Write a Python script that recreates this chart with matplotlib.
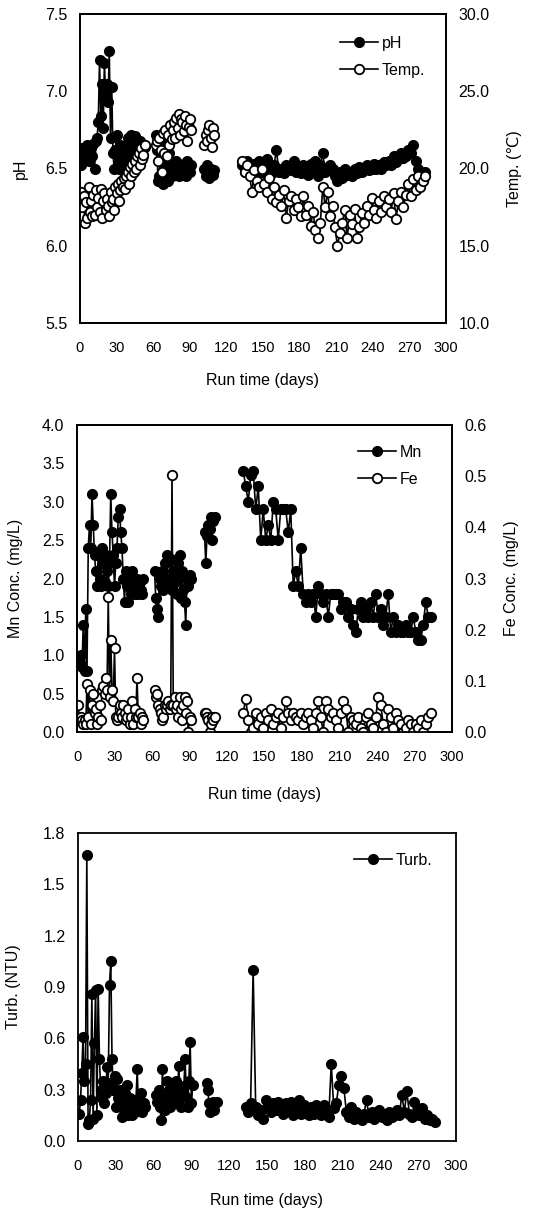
import numpy as np
import matplotlib
matplotlib.use("Agg")
import matplotlib.pyplot as plt
from matplotlib.lines import Line2D

plt.rcParams['font.family'] = ['Liberation Sans', 'DejaVu Sans']

# ---------------- data (run time in days, four sampling periods) ----------------
days_a = [1, 2, 3, 4, 5, 6, 7, 8, 9, 10, 11, 12, 13, 14, 15, 16, 17, 18, 19, 20,
          21, 22, 23, 24, 25, 26, 27, 28, 29, 30, 31, 32, 33, 34, 35, 36, 37, 38, 39, 40,
          41, 42, 43, 44, 45, 46, 47, 48, 49, 50, 51, 52, 53]
days_b = [62, 63, 64, 65, 66, 67, 68, 69, 70, 71, 72, 73, 74, 75, 76, 77, 78, 79, 80, 81,
          82, 83, 84, 85, 86, 87, 88, 89, 90, 91]
days_c = [102, 103, 104, 105, 106, 107, 108, 109, 110]
days_d = [133, 135, 137, 139, 141, 143, 145, 147, 149, 151,
          153, 155, 157, 159, 161, 163, 165, 167, 169, 171,
          173, 175, 177, 179, 181, 183, 185, 187, 189, 191,
          193, 195, 197, 199, 201, 203, 205, 207, 209, 211,
          213, 215, 217, 219, 221, 223, 225, 227, 229, 231,
          233, 235, 237, 239, 241, 243, 245, 247, 249, 251,
          253, 255, 257, 259, 261, 263, 265, 267, 269, 271,
          273, 275, 277, 279, 281, 283]

# pH
ph_a = [6.52, 6.63, 6.60, 6.58, 6.62, 6.65, 6.55, 6.60, 6.63, 6.58,
        6.66, 6.50, 6.68, 6.70, 6.80, 7.20, 6.84, 7.05, 6.76, 7.18,
        6.97, 7.05, 6.93, 7.26, 6.70, 7.03, 6.60, 6.50, 6.62, 6.72,
        6.56, 6.50, 6.65, 6.52, 6.58, 6.50, 6.55, 6.62, 6.70, 6.60,
        6.68, 6.72, 6.65, 6.55, 6.71, 6.66, 6.62, 6.60, 6.68, 6.65,
        6.62, 6.58, 6.64]
ph_b = [6.72, 6.62, 6.42, 6.45, 6.68, 6.55, 6.40, 6.50, 6.47, 6.55,
        6.42, 6.60, 6.48, 6.45, 6.52, 6.50, 6.46, 6.55, 6.48, 6.45,
        6.50, 6.52, 6.47, 6.53, 6.48, 6.45, 6.55, 6.50, 6.48, 6.52]
ph_c = [6.50, 6.45, 6.52, 6.48, 6.44, 6.50, 6.47, 6.46, 6.49]
ph_d = [6.52, 6.48, 6.55, 6.50, 6.45, 6.53, 6.50, 6.55, 6.48, 6.52,
        6.56, 6.50, 6.47, 6.52, 6.62, 6.48, 6.50, 6.47, 6.52, 6.50,
        6.49, 6.55, 6.48, 6.50, 6.47, 6.52, 6.50, 6.46, 6.53, 6.49,
        6.55, 6.45, 6.52, 6.60, 6.48, 6.50, 6.52, 6.50, 6.45, 6.42,
        6.48, 6.44, 6.50, 6.46, 6.48, 6.45, 6.50, 6.47, 6.51, 6.48,
        6.50, 6.52, 6.49, 6.50, 6.53, 6.50, 6.52, 6.50, 6.54, 6.52,
        6.55, 6.52, 6.58, 6.54, 6.56, 6.60, 6.57, 6.58, 6.62, 6.60,
        6.65, 6.55, 6.50, 6.48, 6.45, 6.48]

# Temperature (deg C)
temp_a = [18.5, 17.5, 18.2, 16.5, 17.8, 16.8, 18.8, 17.2, 17.9, 16.9,
          18.3, 17.0, 18.6, 17.5, 18.1, 17.2, 18.7, 16.8, 17.9, 18.4,
          17.3, 18.0, 17.6, 16.9, 18.5, 17.8, 18.0, 17.3, 18.8, 18.4,
          19.0, 17.9, 18.6, 19.2, 18.8, 19.4, 18.7, 19.5, 19.8, 19.0,
          20.1, 19.5, 20.3, 19.8, 20.5, 20.0, 20.8, 21.0, 20.2, 21.3,
          20.6, 20.9, 21.5]
temp_b = [21.5, 21.8, 20.5, 22.0, 21.2, 19.8, 22.3, 21.0, 22.5, 20.8,
          22.2, 21.5, 22.8, 21.9, 22.5, 23.0, 22.0, 23.3, 22.6, 23.5,
          22.2, 23.2, 23.0, 22.4, 23.4, 22.8, 21.8, 22.7, 23.2, 22.5]
temp_c = [21.5, 22.2, 21.8, 22.5, 22.8, 22.0, 21.4, 22.6, 22.2]
temp_d = [20.5, 19.8, 20.2, 19.5, 18.5, 19.9, 19.2, 18.8, 20.0, 19.0,
          18.5, 19.4, 18.0, 18.8, 17.8, 18.3, 17.6, 18.6, 16.8, 17.9,
          18.2, 17.3, 18.0, 17.5, 16.9, 18.2, 17.0, 17.6, 16.3, 17.2,
          16.0, 15.5, 16.5, 18.8, 17.5, 18.5, 16.9, 17.6, 16.2, 15.0,
          15.8, 16.5, 17.3, 15.5, 17.0, 16.4, 17.4, 15.5, 16.2, 17.1,
          16.5, 17.6, 17.0, 18.1, 17.3, 16.8, 17.9, 17.2, 18.2, 17.5,
          18.0, 17.2, 18.4, 16.7, 17.9, 18.5, 17.5, 18.3, 19.0, 18.2,
          19.3, 18.6, 19.5, 18.8, 19.2, 19.5]

# Mn (mg/L)
mn_a = [0.95, 0.90, 1.00, 0.85, 1.40, 0.80, 1.60, 0.80, 2.40, 2.70,
        2.40, 3.10, 2.70, 2.30, 2.10, 1.90, 2.30, 2.00, 1.90, 2.40,
        2.20, 1.95, 2.30, 2.10, 1.90, 2.20, 3.10, 2.60, 2.30, 1.90,
        2.20, 2.40, 2.80, 2.90, 2.60, 2.40, 2.00, 1.70, 2.10, 1.90,
        1.70, 2.00, 1.80, 2.10, 1.85, 1.80, 1.90, 2.00, 1.80, 1.95,
        1.85, 1.80, 2.00]
mn_b = [2.10, 1.75, 1.60, 1.50, 2.00, 1.90, 2.10, 1.85, 2.20, 2.00,
        2.30, 1.90, 2.00, 2.25, 1.85, 2.10, 1.95, 2.00, 1.80, 2.20,
        2.30, 1.75, 2.10, 1.85, 1.70, 1.40, 2.00, 1.90, 2.05, 2.00]
mn_c = [2.60, 2.20, 2.55, 2.70, 2.65, 2.80, 2.50, 2.75, 2.80]
mn_d = [3.40, 3.20, 3.00, 3.35, 3.40, 2.90, 3.20, 2.50, 2.90, 2.50,
        2.70, 2.50, 3.00, 2.90, 2.50, 2.90, 2.90, 2.90, 2.60, 2.90,
        1.90, 2.10, 1.90, 2.40, 1.80, 1.70, 1.80, 1.70, 1.80, 1.50,
        1.90, 1.80, 1.70, 1.80, 1.50, 1.80, 1.80, 1.80, 1.80, 1.60,
        1.70, 1.70, 1.50, 1.60, 1.40, 1.30, 1.60, 1.70, 1.50, 1.60,
        1.50, 1.70, 1.50, 1.80, 1.50, 1.60, 1.40, 1.50, 1.80, 1.30,
        1.50, 1.30, 1.40, 1.30, 1.30, 1.40, 1.30, 1.30, 1.50, 1.30,
        1.20, 1.20, 1.40, 1.70, 1.50, 1.50]

# Fe (mg/L)
fe_a = [0.053, 0.023, 0.030, 0.023, 0.015, 0.023, 0.015, 0.093, 0.030, 0.083,
        0.015, 0.053, 0.075, 0.038, 0.045, 0.015, 0.030, 0.053, 0.023, 0.083,
        0.090, 0.075, 0.105, 0.083, 0.263, 0.068, 0.180, 0.083, 0.060, 0.165,
        0.030, 0.023, 0.030, 0.053, 0.038, 0.030, 0.053, 0.038, 0.023, 0.030,
        0.045, 0.015, 0.030, 0.060, 0.015, 0.045, 0.030, 0.105, 0.030, 0.038,
        0.015, 0.030, 0.023]
fe_b = [0.083, 0.068, 0.075, 0.053, 0.045, 0.038, 0.023, 0.030, 0.053, 0.045,
        0.053, 0.060, 0.045, 0.053, 0.503, 0.053, 0.068, 0.045, 0.053, 0.030,
        0.068, 0.045, 0.023, 0.053, 0.068, 0.038, 0.060, 0.000, 0.030, 0.023]
fe_c = [0.038, 0.038, 0.030, 0.023, 0.000, 0.015, 0.030, 0.023, 0.030]
fe_d = [0.038, 0.065, 0.023, 0.000, 0.008, 0.038, 0.015, 0.030, 0.008, 0.038,
        0.023, 0.045, 0.015, 0.030, 0.038, 0.008, 0.030, 0.060, 0.038, 0.023,
        0.038, 0.030, 0.023, 0.038, 0.015, 0.030, 0.038, 0.023, 0.008, 0.038,
        0.060, 0.030, 0.000, 0.060, 0.045, 0.030, 0.038, 0.023, 0.008, 0.038,
        0.060, 0.045, 0.000, 0.030, 0.023, 0.015, 0.030, 0.008, 0.000, 0.030,
        0.038, 0.015, 0.008, 0.030, 0.068, 0.053, 0.015, 0.000, 0.045, 0.030,
        0.008, 0.038, 0.023, 0.015, 0.000, 0.008, 0.023, 0.015, 0.000, 0.015,
        0.008, 0.023, 0.000, 0.015, 0.030, 0.038]

# Turbidity (NTU)
turb_a = [0.16, 0.24, 0.40, 0.61, 0.35, 0.45, 1.67, 0.10, 0.12, 0.24,
          0.86, 0.13, 0.57, 0.88, 0.15, 0.89, 0.48, 0.30, 0.25, 0.35,
          0.22, 0.28, 0.43, 0.34, 0.91, 1.05, 0.48, 0.30, 0.38, 0.20,
          0.36, 0.25, 0.30, 0.20, 0.14, 0.22, 0.28, 0.18, 0.33, 0.15,
          0.25, 0.20, 0.15, 0.22, 0.17, 0.24, 0.42, 0.18, 0.20, 0.28,
          0.17, 0.22, 0.20]
turb_b = [0.27, 0.23, 0.30, 0.20, 0.12, 0.42, 0.22, 0.18, 0.26, 0.35,
          0.30, 0.20, 0.25, 0.33, 0.28, 0.22, 0.35, 0.30, 0.44, 0.25,
          0.20, 0.30, 0.32, 0.48, 0.26, 0.20, 0.35, 0.58, 0.22, 0.33]
turb_c = [0.34, 0.30, 0.22, 0.17, 0.20, 0.23, 0.18, 0.22, 0.23]
turb_d = [0.20, 0.17, 0.22, 1.00, 0.20, 0.15, 0.18, 0.13, 0.24, 0.20,
          0.17, 0.22, 0.18, 0.23, 0.19, 0.16, 0.22, 0.18, 0.23, 0.15,
          0.20, 0.24, 0.16, 0.21, 0.18, 0.15, 0.20, 0.16, 0.21, 0.18,
          0.15, 0.21, 0.17, 0.14, 0.45, 0.19, 0.22, 0.33, 0.38, 0.31,
          0.17, 0.14, 0.20, 0.13, 0.17, 0.15, 0.12, 0.16, 0.24, 0.14,
          0.17, 0.13, 0.15, 0.18, 0.14, 0.16, 0.12, 0.17, 0.14, 0.16,
          0.18, 0.15, 0.27, 0.17, 0.29, 0.16, 0.14, 0.23, 0.17, 0.15,
          0.19, 0.13, 0.15, 0.12, 0.13, 0.11]

x_ticks = [0, 30, 60, 90, 120, 150, 180, 210, 240, 270, 300]


def join(*segs):
    out = []
    for i, s in enumerate(segs):
        if i:
            out.append(np.nan)
        out.extend(s)
    return np.array(out, dtype=float)


days = join(days_a, days_b, days_c, days_d)
ph = join(ph_a, ph_b, ph_c, ph_d)
temp = join(temp_a, temp_b, temp_c, temp_d)
mn = join(mn_a, mn_b, mn_c, mn_d)
fe = join(fe_a, fe_b, fe_c, fe_d)
turb = join(turb_a, turb_b, turb_c, turb_d)

# ---------------- figure ----------------
W, H = 554, 1213
fig = plt.figure(figsize=(W / 100, H / 100), dpi=100)
fig.patch.set_facecolor('white')

TICK_FS = 11.5
XTICK_FS = 10.5
LAB_FS = 11.5
MS = 6.8
LW = 1.2

filled = dict(color='k', marker='o', ms=MS, mfc='k', mec='k', mew=1.2, lw=LW)
hollow = dict(color='k', marker='o', ms=MS, mfc='white', mec='k', mew=1.3, lw=LW)


def make_ax(l, r, t, b):
    return fig.add_axes([l / W, 1 - b / H, (r - l) / W, (b - t) / H])


def style(ax):
    for s in ax.spines.values():
        s.set_linewidth(1.3)
        s.set_color('k')
    ax.tick_params(axis='both', length=0, labelsize=TICK_FS, pad=9)
    ax.tick_params(axis='x', labelsize=XTICK_FS, pad=13)


def fmt_ticks(ax, vals, dec=1):
    ax.set_yticks(vals)
    ax.set_yticklabels([f"{v:.{dec}f}" for v in vals])


def xlabel(ax, box, ypix):
    l, r, t, b = box
    ax.set_xlabel('Run time (days)', fontsize=LAB_FS, va='center')
    ax.xaxis.set_label_coords(0.5, -(ypix - b) / (b - t))


def ylabel(ax, box, text, xpix):
    l, r, t, b = box
    ax.set_ylabel(text, fontsize=LAB_FS, rotation=90, va='center', ha='center')
    ax.yaxis.set_label_coords((xpix - l) / (r - l), 0.5)


# ---- panel 1: pH / Temp ----
box1 = (80, 446, 14, 323)
ax1 = make_ax(*box1)
ax1b = ax1.twinx()
ax1.plot(days, ph, **filled)
ax1b.plot(days, temp, **hollow)
ax1.set_xlim(0, 300)
ax1.set_ylim(5.5, 7.5)
ax1b.set_ylim(10, 30)
ax1.set_xticks(x_ticks)
fmt_ticks(ax1, [5.5, 6.0, 6.5, 7.0, 7.5])
fmt_ticks(ax1b, [10, 15, 20, 25, 30])
for a in (ax1, ax1b):
    style(a)
xlabel(ax1, box1, 380)
ylabel(ax1, box1, 'pH', 20)
ylabel(ax1b, box1, 'Temp. (℃)', 515)
h1 = [Line2D([], [], **filled), Line2D([], [], **hollow)]
ax1b.legend(h1, ['pH', 'Temp.'], loc='upper left',
            bbox_to_anchor=((340 - 80) / 366, (323 - 36) / 309),
            frameon=False, fontsize=LAB_FS, handlelength=2.4, handletextpad=0.2,
            labelspacing=0.75, borderpad=0, borderaxespad=0)

# ---- panel 2: Mn / Fe ----
box2 = (77, 452, 425, 732)
ax2 = make_ax(*box2)
ax2b = ax2.twinx()
ax2.plot(days, mn, **filled)
ax2b.plot(days, fe, **hollow)
ax2.set_xlim(0, 300)
ax2.set_ylim(0, 4.0)
ax2b.set_ylim(0, 0.6)
ax2.set_xticks(x_ticks)
fmt_ticks(ax2, [0.0, 0.5, 1.0, 1.5, 2.0, 2.5, 3.0, 3.5, 4.0])
fmt_ticks(ax2b, [0.0, 0.1, 0.2, 0.3, 0.4, 0.5, 0.6])
for a in (ax2, ax2b):
    style(a)
xlabel(ax2, box2, 795)
ylabel(ax2, box2, 'Mn Conc. (mg/L)', 15)
ylabel(ax2b, box2, 'Fe Conc. (mg/L)', 512)
h2 = [Line2D([], [], **filled), Line2D([], [], **hollow)]
ax2b.legend(h2, ['Mn', 'Fe'], loc='upper left',
            bbox_to_anchor=((358 - 77) / 375, (732 - 445) / 307),
            frameon=False, fontsize=LAB_FS, handlelength=2.4, handletextpad=0.2,
            labelspacing=0.75, borderpad=0, borderaxespad=0)

# ---- panel 3: Turbidity ----
box3 = (78, 456, 833, 1141)
ax3 = make_ax(*box3)
ax3.plot(days, turb, **filled)
ax3.set_xlim(0, 300)
ax3.set_ylim(0, 1.8)
ax3.set_xticks(x_ticks)
fmt_ticks(ax3, [0.0, 0.3, 0.6, 0.9, 1.2, 1.5, 1.8])
style(ax3)
xlabel(ax3, box3, 1200)
ylabel(ax3, box3, 'Turb. (NTU)', 14)
h3 = [Line2D([], [], **filled)]
ax3.legend(h3, ['Turb.'], loc='upper left',
           bbox_to_anchor=((354 - 78) / 378, (1141 - 853) / 308),
           frameon=False, fontsize=LAB_FS, handlelength=2.4, handletextpad=0.2,
           borderpad=0, borderaxespad=0)

fig.savefig('out.png', dpi=100, facecolor='white')
